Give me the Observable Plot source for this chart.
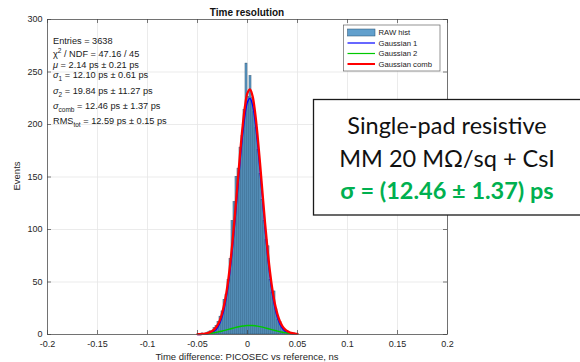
<!DOCTYPE html>
<html>
<head>
<meta charset="utf-8">
<script src="https://cdn.jsdelivr.net/npm/d3@7"></script>
<script src="https://cdn.jsdelivr.net/npm/@observablehq/plot@0.6"></script>
<style>
  html, body { margin: 0; padding: 0; background: #fff; }
  #chart { position: relative; width: 580px; height: 362px; overflow: hidden; }
</style>
</head>
<body>
<div id="chart"></div>
<script>
// ---- data ----
const xTicks = [-0.2, -0.15, -0.1, -0.05, 0, 0.05, 0.1, 0.15, 0.2];
const xTickLabels = ["-0.2", "-0.15", "-0.1", "-0.05", "0", "0.05", "0.1", "0.15", "0.2"];
const yTicks = [0, 50, 100, 150, 200, 250, 300];
const yTickLabels = ["0", "50", "100", "150", "200", "250", "300"];

// histogram: 2 ps bins from -50 ps to +50 ps (left edges, ps)
const binLeftPs = [-50,-48,-46,-44,-42,-40,-38,-36,-34,-32,-30,-28,-26,-24,-22,-20,-18,-16,-14,-12,
                   -10,-8,-6,-4,-2,0,2,4,6,8,10,12,14,16,18,20,22,24,26,28,
                   30,32,34,36,38,40,42,44,46,48];
const binWidthPs = 2;
const counts = [0,0,1,0,1,2,3,2,6,8,12,17,22,33,38,52,72,108,126,150,
                158,178,189,214,258,226,246,225,212,197,176,153,128,108,90,84,52,40,41,24,
                14,12,6,3,2,2,1,0,1,0];

const curveXPs = [-50,-47.5,-45,-42.5,-40,-37.5,-35,-32.5,-30,-27.5,-25,-22.5,-20,-17.5,-15,-12.5,-10,-7.5,-5,-2.5,
                  0,2.5,5,7.5,10,12.5,15,17.5,20,22.5,25,27.5,30,32.5,35,37.5,40,42.5,45,47.5,50];
const gauss1 = [0.02,0.05,0.11,0.25,0.52,1.05,2.02,3.74,6.61,11.2,18.2,28.3,42.2,60.3,82.5,108.2,136.0,163.8,189.0,209.0,
                221.5,224.9,218.8,204.0,182.2,155.9,127.9,100.5,75.7,54.6,37.8,25.0,15.9,9.66,5.63,3.15,1.68,0.86,0.42,0.20,0.09];
const gauss2 = [0.27,0.38,0.51,0.68,0.90,1.17,1.49,1.87,2.32,2.82,3.37,3.98,4.61,5.27,5.92,6.55,7.13,7.64,8.06,8.37,
                8.55,8.60,8.51,8.29,7.95,7.50,6.97,6.37,5.74,5.08,4.43,3.80,3.21,2.67,2.18,1.76,1.39,1.09,0.83,0.63,0.47];
const gaussComb = [0.29,0.43,0.62,0.93,1.42,2.22,3.51,5.61,8.93,14.0,21.6,32.3,46.8,65.6,88.4,114.8,143.1,171.4,197.1,217.4,
                   230.1,233.5,227.3,212.3,190.2,163.4,134.9,106.9,81.4,59.7,42.2,28.8,19.1,12.3,7.81,4.91,3.07,1.95,1.26,0.83,0.56];

const statLines = [
  {main: "Entries = 3638"},
  {main: "χ", sup: "2", rest: " / NDF = 47.16 / 45"},
  {main: "μ", italic: true, rest: " = 2.14 ps ± 0.21 ps"},
  {main: "σ", italic: true, sub: "1", rest: " = 12.10 ps ± 0.61 ps"},
  {main: "σ", italic: true, sub: "2", rest: " = 19.84 ps ± 11.27 ps"},
  {main: "σ", italic: true, sub: "comb", rest: " = 12.46 ps ± 1.37 ps"},
  {main: "RMS", sub: "tot", rest: " = 12.59 ps ± 0.15 ps"}
];
const legendLabels = ["RAW hist", "Gaussian 1", "Gaussian 2", "Gaussian comb"];
const boxLines = ["Single-pad resistive", "MM 20 MΩ/sq + CsI", "σ = (12.46 ± 1.37) ps"];

// ---- derived tables ----
const hist = binLeftPs.map((l, i) => ({x1: l / 1000, x2: (l + binWidthPs) / 1000, y: counts[i]}));
const curves = curveXPs.map((x, i) => ({x: x / 1000, g1: gauss1[i], g2: gauss2[i], comb: gaussComb[i]}));

const xDomain = [xTicks[0], xTicks[xTicks.length - 1]];
const yDomain = [yTicks[0], yTicks[yTicks.length - 1]];
const tickLenX = (xDomain[1] - xDomain[0]) * 0.01;
const tickLenY = (yDomain[1] - yDomain[0]) * 0.0127;

const barFill = "#62a0cd";
const barStroke = "#274e6c";
const axisColor = "#262626";

const plot = Plot.plot({
  width: 580,
  height: 362,
  marginLeft: 47,
  marginRight: 133,
  marginTop: 19,
  marginBottom: 28,
  style: {fontFamily: "'Liberation Sans', Arial, sans-serif", fontSize: "9px", color: axisColor, background: "#fff"},
  x: {domain: xDomain},
  y: {domain: yDomain},
  marks: [
    Plot.ruleX(xTicks, {x: d => d, stroke: "#e6e6e6", strokeWidth: 0.8}),
    Plot.ruleY(yTicks, {y: d => d, stroke: "#e6e6e6", strokeWidth: 0.8}),
    Plot.rectY(hist, {x1: "x1", x2: "x2", y: "y", fill: barFill, stroke: barStroke, strokeWidth: 0.5}),
    Plot.line(curves, {x: "x", y: "g1", stroke: "#0000ff", strokeWidth: 1.4, curve: "catmull-rom"}),
    Plot.line(curves, {x: "x", y: "g2", stroke: "#00c800", strokeWidth: 1.4, curve: "catmull-rom"}),
    Plot.line(curves, {x: "x", y: "comb", stroke: "#ff0000", strokeWidth: 2.3, curve: "catmull-rom"}),
    Plot.frame({stroke: "#555", strokeWidth: 0.8}),
    Plot.ruleX(xTicks, {x: d => d, y1: yDomain[0], y2: yDomain[0] + tickLenY, stroke: "#444", strokeWidth: 0.7}),
    Plot.ruleX(xTicks, {x: d => d, y1: yDomain[1] - tickLenY, y2: yDomain[1], stroke: "#444", strokeWidth: 0.7}),
    Plot.ruleY(yTicks, {y: d => d, x1: xDomain[0], x2: xDomain[0] + tickLenX, stroke: "#444", strokeWidth: 0.7}),
    Plot.ruleY(yTicks, {y: d => d, x1: xDomain[1] - tickLenX, x2: xDomain[1], stroke: "#444", strokeWidth: 0.7}),
    Plot.axisX({ticks: xTicks, tickFormat: (d, i) => xTickLabels[i], tickSize: 0, tickPadding: 6, label: null, fontSize: 9}),
    Plot.axisY({ticks: yTicks, tickFormat: (d, i) => yTickLabels[i], tickSize: 0, tickPadding: 5, label: null, fontSize: 9})
  ]
});

document.getElementById("chart").appendChild(plot);

// ---- annotations ----
const svg = d3.select(plot);
const font = "'Liberation Sans', Arial, sans-serif";

// title
svg.append("text").attr("x", 247).attr("y", 15.5).attr("text-anchor", "middle")
  .attr("font-family", font).attr("font-size", 10).attr("font-weight", "bold").attr("fill", "#111")
  .text("Time resolution");

// axis labels
svg.append("text").attr("x", 247).attr("y", 359.5).attr("text-anchor", "middle")
  .attr("font-family", font).attr("font-size", 9.5).attr("fill", axisColor)
  .text("Time difference: PICOSEC vs reference, ns");
svg.append("text").attr("transform", "translate(20,176) rotate(-90)").attr("text-anchor", "middle")
  .attr("font-family", font).attr("font-size", 9.5).attr("fill", axisColor)
  .text("Events");

// stats text
const statBaselines = [43.5, 56.5, 67.5, 77.5, 93.5, 108.5, 123.5];
statLines.forEach((s, i) => {
  const t = svg.append("text").attr("x", 53).attr("y", statBaselines[i]).attr("text-anchor", "start")
    .attr("font-family", font).attr("font-size", 9.2).attr("fill", "#1a1a1a");
  const m = t.append("tspan").text(s.main);
  if (s.italic) m.attr("font-style", "italic");
  if (s.sup) t.append("tspan").attr("font-size", 6.5).attr("dy", -3.5).text(s.sup);
  if (s.sub) t.append("tspan").attr("font-size", 6.5).attr("dy", 3).text(s.sub);
  if (s.rest) t.append("tspan").attr("dy", s.sup ? 3.5 : (s.sub ? -3 : 0)).text(s.rest);
});

// legend
const lg = svg.append("g");
lg.append("rect").attr("x", 343.5).attr("y", 25).attr("width", 96.5).attr("height", 46)
  .attr("fill", "#fff").attr("stroke", "#666").attr("stroke-width", 0.7);
const legendY = [32.5, 43, 53.5, 64];
lg.append("rect").attr("x", 347.5).attr("y", legendY[0] - 3.5).attr("width", 27.5).attr("height", 7)
  .attr("fill", barFill).attr("stroke", barStroke).attr("stroke-width", 0.5);
const legendColors = [null, "#0000ff", "#00c800", "#ff0000"];
const legendWidths = [0, 1.2, 1.2, 2];
legendLabels.forEach((lab, i) => {
  if (legendColors[i]) {
    lg.append("line").attr("x1", 347.5).attr("x2", 375).attr("y1", legendY[i]).attr("y2", legendY[i])
      .attr("stroke", legendColors[i]).attr("stroke-width", legendWidths[i]);
  }
  lg.append("text").attr("x", 378.5).attr("y", legendY[i] + 2.8).attr("text-anchor", "start")
    .attr("font-family", font).attr("font-size", 7.7).attr("fill", "#1a1a1a").text(lab);
});

// overlay result box
const bx = svg.append("g");
bx.append("rect").attr("x", 313.5).attr("y", 99.5).attr("width", 268).attr("height", 115.5)
  .attr("fill", "#fff").attr("stroke", "#1a1a1a").attr("stroke-width", 1.3);
const boxBaselines = [133.5, 167, 198.5];
boxLines.forEach((line, i) => {
  bx.append("text").attr("x", 447).attr("y", boxBaselines[i]).attr("text-anchor", "middle")
    .attr("font-family", "Lato, 'Open Sans', sans-serif").attr("font-size", 23.5)
    .attr("font-weight", i === 2 ? "bold" : "normal")
    .attr("fill", i === 2 ? "#00b050" : "#111").text(line);
});
</script>
</body>
</html>
